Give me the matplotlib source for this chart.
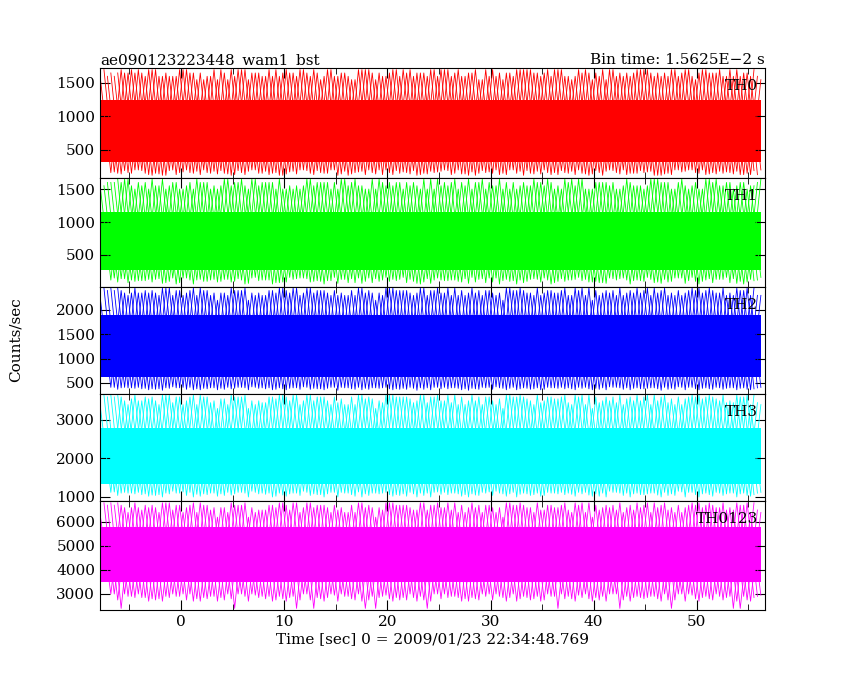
import numpy as np
import matplotlib.pyplot as plt

plt.rcParams['font.family'] = ['DejaVu Serif']

# time grid (sec), 2 s blocks from the light curve
t0 = -7.8
t1 = 56.2
names = ['TH0', 'TH1', 'TH2', 'TH3', 'TH0123']
colors = ['#ff0000', '#00ff00', '#0000ff', '#00ffff', '#ff00ff']
ylims = [(80, 1724), (15, 1667), (274, 2472), (896, 3675), (2333, 6875)]
yticks = [[500, 1000, 1500], [500, 1000, 1500], [500, 1000, 1500, 2000],
          [1000, 2000, 3000], [3000, 4000, 5000, 6000]]

# envelope: spike maxima and dip minima per 2 s block
th0_hi = [1550, 1700, 1650, 1600, 1700, 1550, 1650, 1700, 1600, 1700, 1650, 1700, 1600, 1700, 1650, 1700,
          1700, 1600, 1650, 1700, 1600, 1650, 1700, 1600, 1650, 1600, 1700, 1650, 1600, 1650, 1700, 1600, 1550]
th0_lo = [150, 120, 200, 150, 180, 130, 200, 160, 140, 190, 120, 170, 200, 150, 130, 180,
          140, 190, 150, 120, 200, 160, 140, 180, 130, 170, 150, 200, 140, 160, 130, 190, 160]
th0_core = (320, 1250)
th1_hi = [1500, 1600, 1550, 1650, 1500, 1600, 1650, 1550, 1600, 1500, 1650, 1600, 1550, 1500, 1600, 1550,
          1650, 1600, 1500, 1550, 1600, 1650, 1500, 1550, 1600, 1500, 1550, 1650, 1600, 1500, 1550, 1600, 1650]
th1_lo = [120, 90, 150, 60, 130, 100, 160, 80, 140, 110, 70, 150, 100, 130, 60, 120,
          90, 140, 110, 80, 150, 100, 130, 70, 120, 160, 90, 110, 140, 80, 130, 100, 120]
th1_core = (280, 1150)
th2_hi = [2200, 2400, 2350, 2450, 2300, 2400, 2350, 2450, 2300, 2400, 2450, 2350, 2300, 2400, 2450, 2350,
          2400, 2300, 2450, 2350, 2400, 2300, 2350, 2450, 2400, 2300, 2450, 2350, 2400, 2450, 2350, 2400, 2300]
th2_lo = [400, 380, 420, 360, 400, 390, 410, 370, 400, 380, 350, 410, 390, 370, 400, 380,
          360, 410, 390, 400, 370, 380, 410, 360, 400, 390, 370, 410, 380, 400, 360, 390, 410]
th2_core = (620, 1900)
th3_hi = [3300, 3600, 3500, 3650, 3400, 3600, 3550, 3650, 3450, 3600, 3650, 3500, 3400, 3600, 3650, 3550,
          3600, 3450, 3650, 3500, 3600, 3400, 3550, 3650, 3600, 3450, 3650, 3500, 3600, 3650, 3500, 3600, 3400]
th3_lo = [1100, 1050, 1150, 1000, 1100, 1080, 1120, 1020, 1100, 1060, 1000, 1130, 1080, 1040, 1100, 1070,
          1020, 1120, 1080, 1100, 1040, 1060, 1120, 1000, 1100, 1080, 1040, 1120, 1060, 1100, 1020, 1080, 1120]
th3_core = (1350, 2800)
th0123_hi = [6200, 6700, 6500, 6800, 6400, 6700, 6600, 6800, 6500, 6700, 6800, 6600, 6400, 6700, 6800, 6600,
             6700, 6500, 6800, 6600, 6700, 6400, 6600, 6800, 6700, 6500, 6800, 6600, 6700, 6800, 6600, 6700, 6400]
th0123_lo = [2900, 2800, 3000, 2700, 2900, 2400, 2950, 2750, 2400, 2850, 2700, 3000, 2850, 2750, 2900, 2800,
             2700, 3000, 2850, 2900, 2750, 2800, 3000, 2700, 2900, 2850, 2750, 3000, 2800, 2900, 2700, 2850, 3000]
th0123_core = (3500, 5800)

his = [th0_hi, th1_hi, th2_hi, th3_hi, th0123_hi]
los = [th0_lo, th1_lo, th2_lo, th3_lo, th0123_lo]
cores = [th0_core, th1_core, th2_core, th3_core, th0123_core]

fig = plt.figure(figsize=(8.5, 6.8), dpi=100)
H = 680.0
edges = [68, 178, 287, 394, 501, 610]
axes = []
for i in range(5):
    top, bot = edges[i], edges[i + 1]
    ax = fig.add_axes([100 / 850, 1 - bot / H, 665 / 850, (bot - top) / H])
    axes.append(ax)
    hi = np.array(his[i])
    lo = np.array(los[i])
    n = len(hi)
    dt = (t1 - t0) / (n - 1)
    c = colors[i]
    ax.fill_between([t0, t1], cores[i][0], cores[i][1], color=c, lw=0)
    # several shifted passes of the spikes so the band looks dense and ragged
    for k, shift in enumerate([0, 7, 13, 19, 5, 23]):
        h = np.roll(hi, shift)
        l = np.roll(lo, 3 * shift + 1)
        tz = np.empty(2 * n)
        yz = np.empty(2 * n)
        off = k * dt / 6
        tz[0::2] = t0 + off + np.arange(n) * dt
        tz[1::2] = t0 + off + np.arange(n) * dt + dt / 2
        yz[0::2] = h
        yz[1::2] = l
        m = tz <= t1
        ax.plot(tz[m], yz[m], color=c, lw=0.6)
    ax.set_xlim(-7.85, 56.6)
    ax.set_ylim(*ylims[i])
    ax.set_yticks(yticks[i])
    ax.set_xticks(np.arange(0, 51, 10))
    ax.set_xticks(np.arange(-5, 56, 5), minor=True)
    ax.tick_params(direction='in', top=True, right=True, which='both', labelsize=11)
    ax.tick_params(which='major', length=7)
    ax.tick_params(which='minor', length=4)
    if i < 4:
        ax.tick_params(labelbottom=False)
    ax.text(0.99, 0.9, names[i], transform=ax.transAxes, ha='right', va='top', fontsize=11)

axes[0].set_title('ae090123223448_wam1_bst', loc='left', fontsize=11, pad=3)
axes[0].set_title('Bin time: 1.5625E\u22122 s', loc='right', fontsize=11, pad=3)
axes[4].set_xlabel('Time [sec] 0 = 2009/01/23 22:34:48.769', fontsize=11, labelpad=2)
fig.text(0.018, 0.5, 'Counts/sec', rotation=90, va='center', ha='center', fontsize=11)

fig.savefig('out.png', dpi=100)
